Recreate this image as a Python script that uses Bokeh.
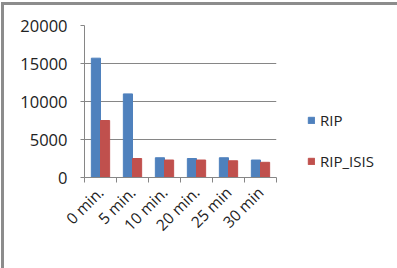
import numpy as np
from bokeh.plotting import figure
from bokeh.models import ColumnDataSource, FixedTicker, Legend, LegendItem, LinearAxis, Range1d
from bokeh.embed import file_html
from bokeh.resources import INLINE

categories = ["0 min.", "5 min.", "10 min.", "20 min.", "25 min", "30 min"]
rip = [15700, 11000, 2600, 2500, 2600, 2300]
rip_isis = [7500, 2500, 2300, 2300, 2200, 2000]

n = len(categories)
idx = np.arange(n)
bw = 1 / 3.5
src = ColumnDataSource(dict(
    xb=idx + 0.5 - bw / 2, xr=idx + 0.5 + bw / 2, rip=rip, rip_isis=rip_isis))

FONT = "Open Sans"
GRID = "#868686"

p = figure(frame_width=192, frame_height=152, output_backend="svg", toolbar_location=None,
           x_range=Range1d(0, n), y_range=Range1d(0, 20000),
           min_border_left=80, min_border_right=118, min_border_top=20, min_border_bottom=91,
           x_axis_location=None)
p.styles = {"margin-left": "1px", "margin-top": "2px",
            "border-left": "3px solid #8c8c8c", "border-top": "3px solid #8c8c8c",
            "border-right": "3px solid #8c8c8c"}
p.outline_line_color = None
p.background_fill_color = "white"

rb = p.vbar(x="xb", top="rip", width=bw, source=src, color="#4F81BD")
rr = p.vbar(x="xr", top="rip_isis", width=bw, source=src, color="#C0504D")

# y axis
ya = p.yaxis[0]
ya.ticker = FixedTicker(ticks=[0, 5000, 10000, 15000, 20000])
ya.axis_line_color = GRID
ya.major_tick_line_color = GRID
ya.major_tick_out = 4
ya.major_tick_in = 0
ya.minor_tick_line_color = None
ya.major_label_text_font = FONT
ya.major_label_text_font_size = "16.5px"
ya.major_label_text_color = "#222222"
ya.major_label_standoff = 13
p.ygrid.grid_line_color = GRID
p.ygrid.ticker = ya.ticker
p.xgrid.grid_line_color = None

# x axis: boundary ticks
xt = LinearAxis(ticker=FixedTicker(ticks=list(range(n + 1))), major_label_text_font_size="0px",
                axis_line_color=GRID, major_tick_line_color=GRID, major_tick_out=5, major_tick_in=0,
                minor_tick_line_color=None)
xt.major_label_overrides = {i: "" for i in range(n + 1)}
p.add_layout(xt, "below")
# x axis: labels at centers
xl = LinearAxis(ticker=FixedTicker(ticks=list(idx + 0.5)), axis_line_color=None,
                major_tick_line_color=None, minor_tick_line_color=None,
                major_label_orientation=np.pi / 4, major_label_text_font=FONT,
                major_label_text_font_size="15.5px", major_label_text_color="#222222",
                major_label_standoff=1)
xl.major_label_overrides = {float(i + 0.5): c for i, c in enumerate(categories)}
p.add_layout(xl, "below")

legend = Legend(items=[LegendItem(label="RIP", renderers=[rb]),
                       LegendItem(label="RIP_ISIS", renderers=[rr])],
                location=(31, 6), glyph_width=8, glyph_height=8, spacing=21,
                label_text_font=FONT, label_text_font_size="15px", label_text_color="#222222",
                border_line_color=None, background_fill_alpha=0, padding=0, margin=0,
                label_standoff=5)
p.add_layout(legend, "right")

open("out.html", "w").write(file_html(p, INLINE))
